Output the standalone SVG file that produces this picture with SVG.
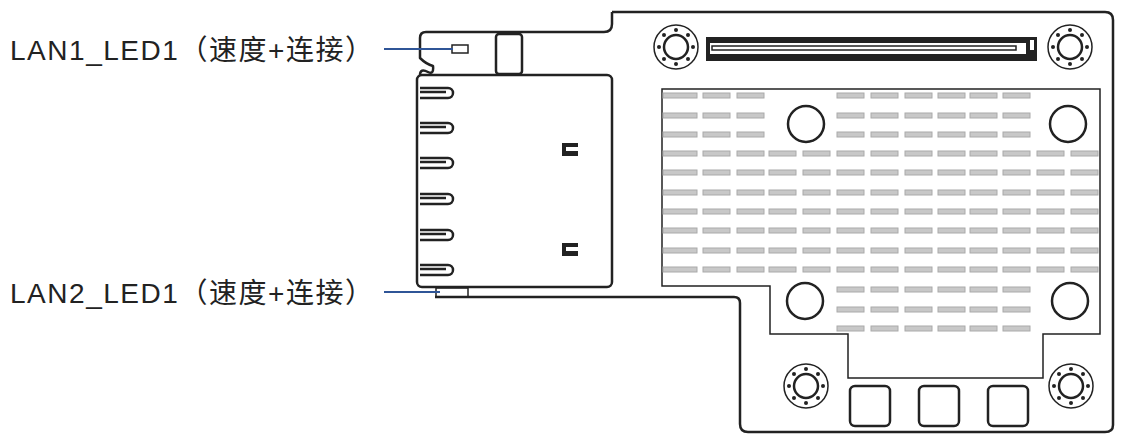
<svg xmlns="http://www.w3.org/2000/svg" width="1123" height="437" viewBox="0 0 1123 437">
<style>
.o{fill:none;stroke:#222;stroke-width:2.5;stroke-linejoin:round}
.t{fill:none;stroke:#222;stroke-width:1.5}
.f{fill:#c8c8c8;stroke:#aaa;stroke-width:1}
.lbl{font-family:"Liberation Sans","Noto Sans CJK SC",sans-serif;font-size:28px;fill:#222}
.ld{stroke:#2f5597;stroke-width:2}
</style>
<defs>
<g id="so"><circle r="22" class="t"/><circle r="12" class="o"/>
<g fill="#222"><circle cx="17" cy="0" r="2"/><circle cx="-17" cy="0" r="2"/><circle cx="0" cy="17" r="2"/><circle cx="0" cy="-17" r="2"/><circle cx="12" cy="12" r="2"/><circle cx="-12" cy="12" r="2"/><circle cx="12" cy="-12" r="2"/><circle cx="-12" cy="-12" r="2"/></g></g>
<rect id="fn" width="27" height="5" class="f"/>
<rect id="fw" width="34" height="5" class="f"/>
<path id="tooth" d="M420 0 H448 A5 5 0 0 1 448 10 H420 M420 4 H446" class="o"/>
<g id="rt"><use href="#fw" x="663"/><use href="#fn" x="703"/><use href="#fn" x="737"/>
<use href="#fn" x="837"/><use href="#fn" x="871"/><use href="#fn" x="905"/><use href="#fn" x="938"/><use href="#fn" x="970"/><use href="#fn" x="1003"/></g>
<g id="rf"><use href="#fw" x="663"/><use href="#fn" x="703"/><use href="#fn" x="737"/><use href="#fn" x="769"/><use href="#fn" x="803"/>
<use href="#fn" x="837"/><use href="#fn" x="871"/><use href="#fn" x="905"/><use href="#fn" x="938"/><use href="#fn" x="970"/><use href="#fn" x="1003"/><use href="#fn" x="1037"/><use href="#fn" x="1071"/></g>
<g id="rb"><use href="#fn" x="837"/><use href="#fn" x="871"/><use href="#fn" x="905"/><use href="#fn" x="938"/><use href="#fn" x="970"/><use href="#fn" x="1003"/></g>
</defs>
<g id="board">
<path class="o" d="M612 12 H1105 Q1113 12 1113 20 V425 Q1113 432 1105 432 H748 Q740 432 740 424 V303 Q740 297 734 297 H435 M420 75 Q420 68 428 72 Q434 75 433 66 Q426 64 420 58 V38 Q420 32 426 32 H604 Q612 32 612 24 V12"/>
</g>
<g id="rj45">
<rect x="417" y="75" width="195" height="212" rx="5" class="o"/>
<use href="#tooth" y="88"/><use href="#tooth" y="123"/><use href="#tooth" y="158"/><use href="#tooth" y="194"/><use href="#tooth" y="230"/><use href="#tooth" y="265"/>
<path d="M562 143 H578 V147 H566 V151 H578 V156 H562 Z" fill="#222"/>
<path d="M562 243 H578 V247 H566 V251 H578 V256 H562 Z" fill="#222"/>
</g>
<g id="led1"><rect x="452" y="45" width="16" height="8" class="t"/></g>
<g id="led2"><rect x="436" y="288" width="32" height="9" class="t"/></g>
<g id="latch"><rect x="496" y="34" width="26" height="40" rx="3" class="o"/></g>
<g id="connector">
<rect x="706" y="37" width="331" height="24" fill="#222"/>
<rect x="710" y="43" width="316" height="11" fill="#fff"/>
<rect x="712" y="46" width="304" height="4" class="t"/>
<rect x="1030" y="40" width="4" height="10" fill="#fff"/>
</g>
<g id="standoffs">
<use href="#so" x="676" y="47"/><use href="#so" x="1070" y="47"/><use href="#so" x="806" y="386"/><use href="#so" x="1071" y="386"/>
</g>
<g id="heatsink">
<path class="t" d="M662 89 H1100 V334 H1043 V378 H848 V334 H770 V286 H662 Z"/>
<circle cx="806" cy="124" r="18" class="o"/><circle cx="1068" cy="124" r="18" class="o"/>
<circle cx="805" cy="301" r="18" class="o"/><circle cx="1070" cy="301" r="18" class="o"/>
<g id="fins">
<use href="#rt" y="93"/><use href="#rt" y="113"/><use href="#rt" y="132"/>
<use href="#rf" y="151"/><use href="#rf" y="170"/><use href="#rf" y="190"/><use href="#rf" y="209"/><use href="#rf" y="228"/><use href="#rf" y="248"/><use href="#rf" y="267"/>
<use href="#rb" y="287"/><use href="#rb" y="307"/><use href="#rb" y="326"/>
</g>
</g>
<g id="pads">
<rect x="850" y="386" width="40" height="40" rx="5" class="o"/>
<rect x="919" y="386" width="40" height="40" rx="5" class="o"/>
<rect x="988" y="386" width="40" height="40" rx="5" class="o"/>
</g>
<g id="connectors">
<line x1="384" y1="49" x2="453" y2="49" class="ld"/>
<line x1="384" y1="292" x2="440" y2="292" class="ld"/>
</g>
<text class="lbl" x="10" y="60" textLength="363" lengthAdjust="spacing">LAN1_LED1（速度+连接）</text>
<text class="lbl" x="10" y="303" textLength="363" lengthAdjust="spacing">LAN2_LED1（速度+连接）</text>
</svg>
